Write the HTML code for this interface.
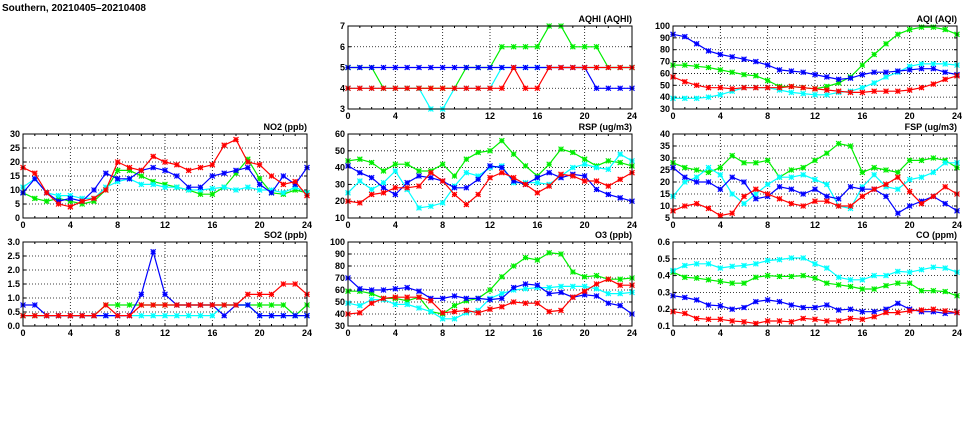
<!DOCTYPE html>
<html><head><meta charset="utf-8">
<style>
html,body{margin:0;padding:0;background:#fff;}
svg{display:block;font-family:"Liberation Sans",sans-serif;}
.t{font-size:9px;font-weight:bold;fill:#000;}
</style></head>
<body>
<svg id="chart" width="975" height="447" viewBox="0 0 975 447" xmlns="http://www.w3.org/2000/svg">
<text x="2" y="11" class="t" style="font-size:10px">Southern, 20210405–20210408</text>
</svg>
<script>
const hours = [0,1,2,3,4,5,6,7,8,9,10,11,12,13,14,15,16,17,18,19,20,21,22,23,24];
const xTicks = [0,4,8,12,16,20,24];
const seriesColors = ['#00ee00','#00ffff','#0000ff','#ff0000'];
const seriesNames = ['green','cyan','blue','red'];

const aqhiGreen=[5,5,5,4,4,4,4,4,4,4,5,5,5,6,6,6,6,7,7,6,6,6,5,5,5];
const aqhiCyan=[4,4,4,4,4,4,4,3,3,4,4,4,4,5,5,5,5,5,5,5,5,5,5,5,5];
const aqhiBlue=[5,5,5,5,5,5,5,5,5,5,5,5,5,5,5,5,5,5,5,5,5,4,4,4,4];
const aqhiRed=[4,4,4,4,4,4,4,4,4,4,4,4,4,4,5,4,4,5,5,5,5,5,5,5,5];
const aqhiTicks=[3,4,5,6,7];

const aqiGreen=[67,67,66,65,63,61,59,58,54,49,49,48,47,49,52,57,67,76,85,93,97,99,99,97,93];
const aqiCyan=[39,39,39,40,42,45,48,48,48,46,44,43,42,42,44,45,48,52,57,61,66,68,68,68,67];
const aqiBlue=[93,91,85,79,76,74,72,70,67,63,62,61,59,57,55,56,59,61,61,62,63,64,64,61,59];
const aqiRed=[57,53,50,48,48,47,48,48,48,48,49,48,47,46,45,44,44,45,45,45,46,48,51,55,58];
const aqiTicks=[30,40,50,60,70,80,90,100];

const no2Green=[9,7,6,7,6,5,6,10,17,17,15,13,12,11,10,8.5,8.5,11,16,21,14,9,8.5,10,9];
const no2Cyan=[11,14,9,8,8,7,7,11,13,14,12,12,11,11,10,10,10.5,11,10,11,10,10,9,11,9];
const no2Blue=[9,14,9,6,7,6,10,16,14,14,17,18,17,15,11,11,15,16,17,18,12,9,15,12,18];
const no2Red=[18,16,9,5,4,6,7,10,20,18,17,22,20,19,17,18,19,26,28,20,19,15,12,13,8];
const no2Ticks=[0,5,10,15,20,25,30];

const rspGreen=[44,45,43,38,42,42,38,38,42,35,45,49,50,56,48,41,35,42,51,49,45,41,44,43,41];
const rspCyan=[25,32,27,31,38,27,16,17,19,29,37,35,40,41,31,31,31,30,35,40,42,40,39,48,44];
const rspBlue=[41,37,34,28,24,31,35,34,32,28,28,33,41,40,32,30,34,37,34,36,35,27,24,22,20];
const rspRed=[20,19,24,25,28,28,29,37,32,24,18,24,34,37,34,30,25,29,36,35,32,32,29,33,37];
const rspTicks=[10,20,30,40,50,60];

const fspGreen=[28,26,25,24,26,31,28,28,29,22,25,26,29,32,36,35,24,26,25,24,29,29,30,29,26];
const fspCyan=[14,20,22,26,23,15,11,15,19,22,22,23,21,19,10,9,18,23,18,17,21,22,24,28,28];
const fspBlue=[26,22,20,20,17,22,20,13,14,18,17,15,17,14,13,18,17,17,14,7,10,12,14,11,8];
const fspRed=[8,10,11,9,6,7,14,17,15,13,11,10,12,12,10,10,14,17,19,22,16,11,14,18,15];
const fspTicks=[5,10,15,20,25,30,35,40];

const so2Green=[.37,.37,.37,.37,.37,.37,.37,.75,.75,.75,.75,.75,.75,.75,.75,.75,.75,.75,.75,.75,.75,.75,.75,.37,.75];
const so2Cyan=[.37,.37,.37,.37,.37,.37,.37,.37,.37,.37,.37,.37,.37,.37,.37,.37,.37,.75,.75,.75,.37,.37,.37,.37,.37];
const so2Blue=[.75,.75,.37,.37,.37,.37,.37,.37,.37,.37,1.13,2.65,1.13,.75,.75,.75,.75,.37,.75,.75,.37,.37,.37,.37,.37];
const so2Red=[.37,.37,.37,.37,.37,.37,.37,.75,.37,.37,.75,.75,.75,.75,.75,.75,.75,.75,.75,1.13,1.13,1.13,1.5,1.5,1.13];
const so2Ticks=[0,0.5,1,1.5,2,2.5,3];

const o3Green=[59,59,57,53,53,51,54,42,40,47,51,53,60,71,80,87,85,91,90,75,71,72,69,69,70];
const o3Cyan=[49,47,52,52,48,48,45,42,36,36,41,43,53,57,60,61,62,62,63,63,63,61,57,57,58];
const o3Blue=[70,61,60,60,61,62,59,53,53,55,53,53,52,53,62,65,64,57,58,54,56,55,49,47,40];
const o3Red=[40,41,49,53,54,54,54,51,41,42,43,41,44,46,50,49,49,42,43,54,59,65,69,64,64];
const o3Ticks=[30,40,50,60,70,80,90,100];

const coGreen=[.42,.39,.385,.375,.365,.355,.355,.39,.40,.395,.395,.40,.385,.355,.345,.335,.32,.32,.34,.355,.355,.31,.31,.305,.28];
const coCyan=[.43,.46,.47,.47,.445,.455,.46,.47,.49,.495,.505,.505,.47,.445,.39,.375,.375,.40,.40,.425,.42,.435,.45,.445,.42];
const coBlue=[.28,.27,.255,.225,.22,.20,.21,.245,.255,.245,.225,.21,.21,.225,.195,.20,.185,.185,.20,.235,.20,.185,.185,.175,.18];
const coRed=[.185,.175,.145,.14,.14,.13,.125,.115,.13,.13,.125,.145,.14,.13,.13,.145,.14,.155,.18,.18,.19,.195,.20,.19,.18];
const coTicks=[0.1,0.2,0.3,0.4,0.5,0.6];

const NS='http://www.w3.org/2000/svg';
const svg=document.getElementById('chart');
function mk(tag,attrs,parent){const e=document.createElementNS(NS,tag);for(const k in attrs)e.setAttribute(k,attrs[k]);(parent||svg).appendChild(e);return e;}

function panel(key,title,L,T,R,B,ticks,dec,series){
  const g=mk('g',{});
  
  
  const ymin=ticks[0],ymax=ticks[ticks.length-1];
  const xs=h=>L+(R-L)*h/24;
  const ys=v=>B-(B-T)*(v-ymin)/(ymax-ymin);
  ticks.slice(1,-1).forEach(v=>{
    const l=mk('line',{x1:L,x2:R,y1:ys(v),y2:ys(v),stroke:'#000','stroke-width':0.8,'stroke-dasharray':'1,2'},g);
    
    
  });
  xTicks.slice(1,-1).forEach(h=>{
    const l=mk('line',{x1:xs(h),x2:xs(h),y1:T,y2:B,stroke:'#000','stroke-width':0.8,'stroke-dasharray':'1,2'},g);
    
    
  });
  ticks.forEach(v=>{
    const t=mk('text',{x:L-3,y:ys(v)+3,'text-anchor':'end',class:'t'},g);
    t.textContent=v.toFixed(dec);
    
    
    mk('line',{x1:L,x2:L+3,y1:ys(v),y2:ys(v),stroke:'#000'},g);
    mk('line',{x1:R,x2:R-3,y1:ys(v),y2:ys(v),stroke:'#000'},g);
  });
  xTicks.forEach(h=>{
    const t=mk('text',{x:xs(h),y:B+10,'text-anchor':'middle',class:'t'},g);
    t.textContent=h;
    
    
  });
  hours.forEach(h=>{
    mk('line',{x1:xs(h),x2:xs(h),y1:B,y2:B-2,stroke:'#000'},g);
    mk('line',{x1:xs(h),x2:xs(h),y1:T,y2:T+2,stroke:'#000'},g);
  });
  const tt=mk('text',{x:R,y:T-4,'text-anchor':'end',class:'t'},g);
  tt.textContent=title;
  
  
  series.forEach((vals,si)=>{
    const c=seriesColors[si];
    const sg=mk('g',{},g);
    
    
    const pts=vals.map((v,i)=>xs(hours[i]).toFixed(1)+','+ys(v).toFixed(1)).join(' ');
    mk('polyline',{points:pts,fill:'none',stroke:c,'stroke-width':1.2},sg);
    vals.forEach((v,i)=>{
      const x=xs(hours[i]),y=ys(v),s=2.5;
      const p=mk('path',{d:`M${x-s},${y-s}L${x+s},${y+s}M${x-s},${y+s}L${x+s},${y-s}M${x-s},${y}L${x+s},${y}M${x},${y-s}L${x},${y+s}`,stroke:c,'stroke-width':1.2,fill:'none'},sg);
      
      
    });
  });
  const f=mk('rect',{x:L,y:T,width:R-L,height:B-T,fill:'none',stroke:'#000','stroke-width':1},g);
  
  
}

panel('aqhi','AQHI (AQHI)',348,26,632,109,aqhiTicks,0,[aqhiGreen,aqhiCyan,aqhiBlue,aqhiRed]);
panel('aqi','AQI (AQI)',673,26,957,109,aqiTicks,0,[aqiGreen,aqiCyan,aqiBlue,aqiRed]);
panel('no2','NO2 (ppb)',23,134,307,218,no2Ticks,0,[no2Green,no2Cyan,no2Blue,no2Red]);
panel('rsp','RSP (ug/m3)',348,134,632,218,rspTicks,0,[rspGreen,rspCyan,rspBlue,rspRed]);
panel('fsp','FSP (ug/m3)',673,134,957,218,fspTicks,0,[fspGreen,fspCyan,fspBlue,fspRed]);
panel('so2','SO2 (ppb)',23,242,307,326,so2Ticks,1,[so2Green,so2Cyan,so2Blue,so2Red]);
panel('o3','O3 (ppb)',348,242,632,326,o3Ticks,0,[o3Green,o3Cyan,o3Blue,o3Red]);
panel('co','CO (ppm)',673,242,957,326,coTicks,1,[coGreen,coCyan,coBlue,coRed]);
</script>
</body></html>
